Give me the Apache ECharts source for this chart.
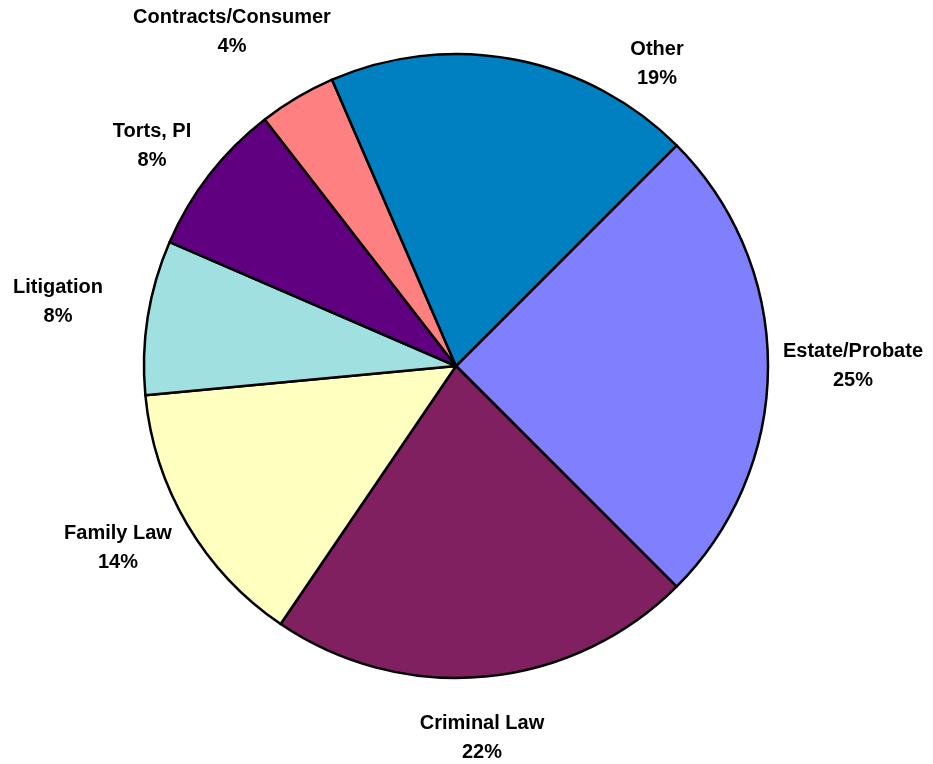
<!DOCTYPE html>
<html>
<head>
<meta charset="utf-8">
<script src="https://cdn.jsdelivr.net/npm/echarts@6/dist/echarts.min.js"></script>
<style>
  html, body { margin: 0; padding: 0; background: #fff; }
  #chart { width: 933px; height: 764px; }
</style>
</head>
<body>
<div id="chart"></div>
<script>
// Practice areas and their share of cases (percent)
const categories = ['Estate/Probate', 'Criminal Law', 'Family Law', 'Litigation', 'Torts, PI', 'Contracts/Consumer', 'Other'];
const shares = [25, 22, 14, 8, 8, 4, 19];
const colors = ['#8080FF', '#802060', '#FFFFC0', '#A0E0E0', '#600080', '#FF8080', '#0080C0'];

// Where each two-line label sits (block centre, px)
const labelSpots = [
  [853, 366], [482, 738], [118, 548], [58, 302], [152, 146], [232, 32], [657, 64]
];

const chart = echarts.init(document.getElementById('chart'));
chart.setOption({
  backgroundColor: '#ffffff',
  animation: false,
  series: [{
    type: 'pie',
    center: [456, 366],
    radius: 312,
    startAngle: 45,
    clockwise: true,
    avoidLabelOverlap: false,
    percentPrecision: 0,
    data: categories.map((name, i) => ({
      name: name,
      value: shares[i],
      itemStyle: { color: colors[i] }
    })),
    itemStyle: { borderColor: '#000000', borderWidth: 2.5 },
    emphasis: { disabled: true },
    label: {
      show: true,
      position: 'outside',
      formatter: '{b}\n{d}%',
      color: '#000000',
      fontFamily: 'Liberation Sans, Arial, sans-serif',
      fontWeight: 'bold',
      fontSize: 20,
      lineHeight: 29,
      align: 'center'
    },
    labelLine: { show: false },
    labelLayout: function (params) {
      const spot = labelSpots[params.dataIndex];
      return { x: spot[0], y: spot[1], align: 'center', verticalAlign: 'middle' };
    }
  }]
});
</script>
</body>
</html>
